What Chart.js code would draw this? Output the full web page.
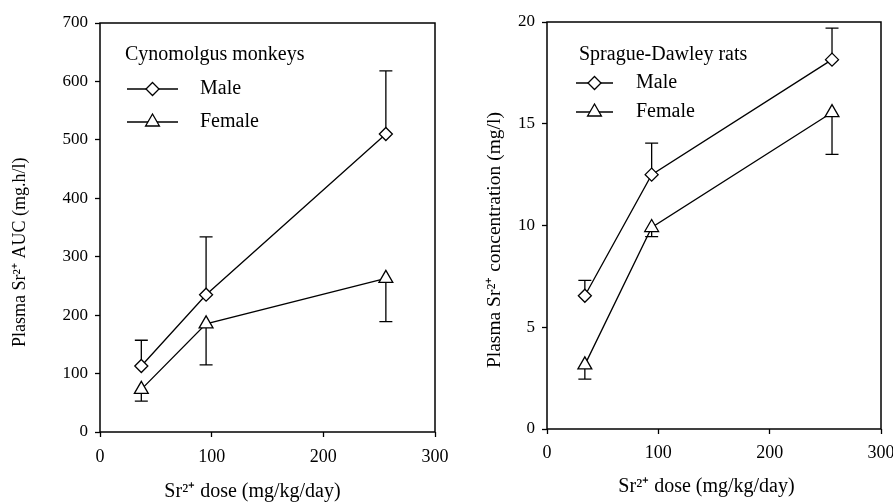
<!DOCTYPE html>
<html>
<head>
<meta charset="utf-8">
<script src="https://cdn.jsdelivr.net/npm/chart.js@4/dist/chart.umd.min.js"></script>
<style>
  html, body { margin: 0; padding: 0; background: #fff; }
  #wrap { position: relative; width: 893px; height: 502px; overflow: hidden; }
  #leftBox { position: absolute; left: 0; top: 0; }
  #rightBox { position: absolute; left: 446px; top: 0; }
</style>
</head>
<body>
<div id="wrap">
  <div id="leftBox"><canvas id="monkeyChart" width="462" height="502"></canvas></div>
  <div id="rightBox"><canvas id="ratChart" width="447" height="502"></canvas></div>
</div>
<script>
"use strict";

// dose levels (mg/kg/day)
const monkeyDose = [37, 95, 256];
const ratDose = [34, 94, 256];

// cynomolgus monkeys, plasma AUC (mg.h/l)
const monkeyMale = [113, 235, 510];
const monkeyMaleErr = [157, 334, 618];     // upper end of error bar
const monkeyFemale = [73, 185, 263];
const monkeyFemaleErr = [53, 115, 189];    // lower end of error bar

// Sprague-Dawley rats, plasma concentration (mg/l)
const ratMale = [6.55, 12.5, 18.15];
const ratMaleErr = [7.3, 14.05, 19.7];
const ratFemale = [3.15, 9.9, 15.55];
const ratFemaleErr = [2.45, 9.45, 13.5];

const seriesNames = ['Male', 'Female'];
const xTicks = [0, 100, 200, 300];

const FONT = '"Liberation Serif", "Times New Roman", serif';
Chart.defaults.color = '#000';
Chart.defaults.font.family = FONT;

function pts(xs, ys) {
    return xs.map((x, i) => ({x: x, y: ys[i]}));
}

function drawMarker(ctx, style, r, x, y) {
    ctx.save();
    ctx.fillStyle = '#fff';
    ctx.strokeStyle = '#000';
    ctx.lineWidth = 1.3;
    ctx.beginPath();
    if (style === 'rectRot') {
        ctx.moveTo(x, y - r);
        ctx.lineTo(x + r, y);
        ctx.lineTo(x, y + r);
        ctx.lineTo(x - r, y);
    } else {
        let h = r * Math.sqrt(3) / 2;
        ctx.moveTo(x, y - r);
        ctx.lineTo(x + h, y + r / 2);
        ctx.lineTo(x - h, y + r / 2);
    }
    ctx.closePath();
    ctx.fill();
    ctx.stroke();
    ctx.restore();
}

// error bars, drawn under the markers
const errorBars = {
    id: 'errorBars',
    beforeDatasetsDraw(chart) {
        const ctx = chart.ctx;
        const yScale = chart.scales.y;
        ctx.save();
        ctx.strokeStyle = '#000';
        ctx.lineWidth = 1.3;
        chart.data.datasets.forEach((ds, di) => {
            const meta = chart.getDatasetMeta(di);
            meta.data.forEach((pt, i) => {
                const yEnd = yScale.getPixelForValue(ds.errEnd[i]);
                ctx.beginPath();
                ctx.moveTo(pt.x, pt.y);
                ctx.lineTo(pt.x, yEnd);
                ctx.moveTo(pt.x - 6.5, yEnd);
                ctx.lineTo(pt.x + 6.5, yEnd);
                ctx.stroke();
            });
        });
        ctx.restore();
    }
};

// box frame and the in-plot legend
const panelLegend = {
    id: 'panelLegend',
    afterDraw(chart, args, opts) {
        const ctx = chart.ctx;
        const a = chart.chartArea;
        ctx.save();
        ctx.strokeStyle = '#000';
        ctx.lineWidth = 1.5;
        ctx.strokeRect(a.left, a.top, a.right - a.left, a.bottom - a.top);

        ctx.fillStyle = '#000';
        ctx.font = '20px ' + FONT;
        ctx.textBaseline = 'middle';
        ctx.textAlign = 'left';
        ctx.fillText(opts.title, a.left + opts.titleDx, a.top + opts.titleDy);

        chart.data.datasets.forEach((ds, i) => {
            const y = a.top + opts.rowDy[i];
            const x0 = a.left + opts.lineDx[0];
            const x1 = a.left + opts.lineDx[1];
            ctx.lineWidth = 1.3;
            ctx.beginPath();
            ctx.moveTo(x0, y);
            ctx.lineTo(x1, y);
            ctx.stroke();
            drawMarker(ctx, ds.pointStyle, ds.pointRadius, (x0 + x1) / 2, y);
            ctx.fillStyle = '#000';
            ctx.fillText(ds.label, a.left + opts.textDx, y);
        });
        ctx.restore();
    }
};

function makeDataset(label, xs, ys, err, style, r) {
    return {
        label: label,
        data: pts(xs, ys),
        errEnd: err,
        borderColor: '#000',
        borderWidth: 1.3,
        pointStyle: style,
        pointRadius: r,
        pointBorderWidth: 1.3,
        pointBorderColor: '#000',
        pointBackgroundColor: '#fff',
        fill: false,
        tension: 0
    };
}

function makeChart(canvasId, cfg) {
    return new Chart(document.getElementById(canvasId), {
        type: 'line',
        data: {datasets: cfg.datasets},
        options: {
            responsive: false,
            animation: false,
            devicePixelRatio: 1,
            layout: {padding: cfg.padding},
            plugins: {
                legend: {display: false},
                tooltip: {enabled: false},
                panelLegend: cfg.legend
            },
            scales: {
                x: {
                    type: 'linear',
                    min: 0, max: 300,
                    afterBuildTicks: s => { s.ticks = xTicks.map(v => ({value: v})); },
                    afterFit: s => { s.height = cfg.xHeight; s.paddingLeft = 0; s.paddingRight = 0; },
                    border: {display: false},
                    grid: {drawOnChartArea: false, color: '#000', tickLength: 5, tickWidth: 1.3},
                    ticks: {font: {size: 18}, padding: cfg.xTickPad, maxRotation: 0},
                    title: {display: true, text: cfg.xTitle, font: {size: 20, lineHeight: 1},
                            padding: {top: 0, bottom: cfg.xTitlePad}}
                },
                y: {
                    type: 'linear',
                    min: 0, max: cfg.yMax,
                    ticks: {stepSize: cfg.yStep, font: {size: 17}, padding: 7},
                    afterFit: s => { s.width = cfg.yWidth; },
                    border: {display: false},
                    grid: {drawOnChartArea: false, color: '#000', tickLength: 5, tickWidth: 1.3},
                    title: {display: true, text: cfg.yTitle, font: {size: cfg.yTitleSize, lineHeight: 1.2},
                            padding: {top: cfg.yTitlePad, bottom: 0}}
                }
            }
        },
        plugins: [errorBars, panelLegend]
    });
}

makeChart('monkeyChart', {
    datasets: [
        makeDataset(seriesNames[0], monkeyDose, monkeyMale, monkeyMaleErr, 'rectRot', 6.5),
        makeDataset(seriesNames[1], monkeyDose, monkeyFemale, monkeyFemaleErr, 'triangle', 8)
    ],
    padding: {top: 23, right: 27, left: 0, bottom: 0},
    yMax: 700, yStep: 100, yWidth: 100, xHeight: 70, xTickPad: 9,
    xTitle: 'Sr\u00B2\u207A dose (mg/kg/day)      ',
    yTitle: 'Plasma Sr\u00B2\u207A AUC (mg.h/l)           ',
    yTitleSize: 18,
    xTitlePad: 0, yTitlePad: 9,
    legend: {title: 'Cynomolgus monkeys', titleDx: 25, titleDy: 32,
             lineDx: [27, 78], textDx: 100, rowDy: [66, 99]}
});

makeChart('ratChart', {
    datasets: [
        makeDataset(seriesNames[0], ratDose, ratMale, ratMaleErr, 'rectRot', 6.5),
        makeDataset(seriesNames[1], ratDose, ratFemale, ratFemaleErr, 'triangle', 8)
    ],
    padding: {top: 22, right: 12, left: 0, bottom: 0},
    yMax: 20, yStep: 5, yWidth: 101, xHeight: 73, xTickPad: 8,
    xTitle: 'Sr\u00B2\u207A dose (mg/kg/day)   ',
    yTitle: 'Plasma Sr\u00B2\u207A concentration (mg/l)      ',
    yTitleSize: 19.5,
    xTitlePad: 5, yTitlePad: 37,
    legend: {title: 'Sprague-Dawley rats', titleDx: 32, titleDy: 33,
             lineDx: [29, 66], textDx: 89, rowDy: [61, 90]}
});
</script>
</body>
</html>
